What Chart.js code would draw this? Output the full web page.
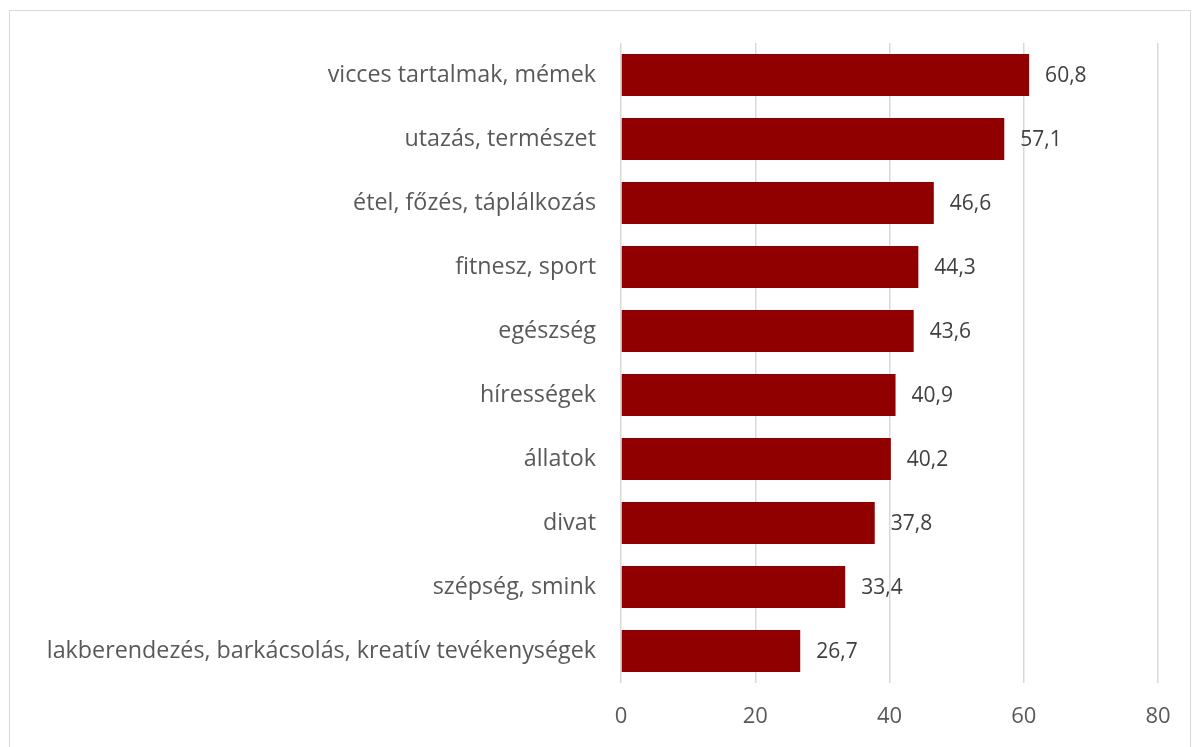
<!DOCTYPE html>
<html>
<head>
<meta charset="utf-8">
<script src="https://cdn.jsdelivr.net/npm/chart.js@4"></script>
<style>
  html, body { margin: 0; padding: 0; background: #fff; overflow: hidden; }
  .frame { position: absolute; left: 9px; top: 10px; width: 1180px; height: 780px; border: 1px solid #d9d9d9; }
  #wrap { position: absolute; left: 0; top: 0; width: 1199px; height: 747px; }
</style>
</head>
<body>
<div class="frame"></div>
<div id="wrap"><canvas id="myChart"></canvas></div>
<script>
// data
const categories = [
  'vicces tartalmak, mémek',
  'utazás, természet',
  'étel, főzés, táplálkozás',
  'fitnesz, sport',
  'egészség',
  'hírességek',
  'állatok',
  'divat',
  'szépség, smink',
  'lakberendezés, barkácsolás, kreatív tevékenységek'
];
const values = [60.8, 57.1, 46.6, 44.3, 43.6, 40.9, 40.2, 37.8, 33.4, 26.7];
const xTicks = [0, 20, 40, 60, 80];

const fontFamily = '"Open Sans", "Liberation Sans", sans-serif';

// draws the value next to each bar, with a decimal comma
const valueLabels = {
  id: 'valueLabels',
  afterDatasetsDraw(chart) {
    const ctx = chart.ctx;
    const meta = chart.getDatasetMeta(0);
    ctx.save();
    ctx.font = '21px ' + fontFamily;
    ctx.fillStyle = '#404040';
    ctx.textAlign = 'left';
    ctx.textBaseline = 'middle';
    meta.data.forEach((bar, i) => {
      const txt = values[i].toFixed(1).replace('.', ',');
      ctx.fillText(txt, bar.x + 16, bar.y + 1);
    });
    ctx.restore();
  }
};

const ctx = document.getElementById('myChart').getContext('2d');

const myChart = new Chart(ctx, {
  type: 'bar',
  data: {
    labels: categories,
    datasets: [{
      data: values,
      backgroundColor: '#900000',
      borderWidth: 0,
      barPercentage: 0.66,
      categoryPercentage: 1
    }]
  },
  options: {
    indexAxis: 'y',
    responsive: true,
    maintainAspectRatio: false,
    animation: false,
    layout: { padding: { top: 43, right: 41, bottom: 0, left: 0 } },
    plugins: {
      legend: { display: false },
      tooltip: { enabled: false }
    },
    scales: {
      x: {
        min: 0,
        max: 80,
        afterBuildTicks(scale) {
          scale.ticks = xTicks.map(v => ({ value: v }));
        },
        afterFit(scale) { scale.height = 64; },
        grid: { color: '#d9d9d9', lineWidth: 1.5, drawTicks: false },
        border: { display: false },
        ticks: {
          color: '#595959',
          padding: 21,
          font: { family: fontFamily, size: 22 }
        }
      },
      y: {
        afterFit(scale) { scale.width = 621; },
        grid: { display: false, drawTicks: false },
        border: { display: false },
        ticks: {
          color: '#595959',
          padding: 25,
          font: { family: fontFamily, size: 23.3 }
        }
      }
    }
  },
  plugins: [valueLabels]
});
</script>
</body>
</html>
